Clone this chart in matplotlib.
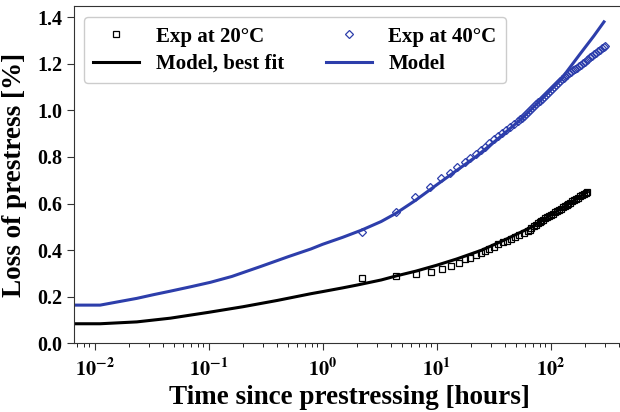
import matplotlib
matplotlib.use("Agg")
import matplotlib.pyplot as plt

plt.rcParams['font.family'] = ['Liberation Serif', 'DejaVu Serif']
plt.rcParams['font.weight'] = 'bold'
plt.rcParams['mathtext.fontset'] = 'stix'

# model curves
t_model20 = [0.001, 0.0112, 0.0235, 0.0463, 0.1, 0.2, 0.4, 0.79, 1.0, 1.5, 2.0, 3.27, 4.4, 6.6,
             10, 15, 24.9, 40, 68.7, 100, 150, 210]
y_model20 = [0.084, 0.084, 0.092, 0.108, 0.133, 0.157, 0.184, 0.213, 0.222, 0.238, 0.25, 0.272,
             0.289, 0.31, 0.335, 0.362, 0.40, 0.445, 0.50, 0.55, 0.604, 0.65]

t_model40 = [0.001, 0.0112, 0.016, 0.0235, 0.033, 0.0463, 0.07, 0.104, 0.16, 0.287, 0.5, 0.79, 1.0,
             1.5, 2.2, 3.27, 4.4, 6.5, 10, 15, 22, 33, 56, 80, 122, 180, 240, 294]
y_model40 = [0.164, 0.164, 0.178, 0.193, 0.209, 0.224, 0.243, 0.262, 0.287, 0.33, 0.372, 0.405, 0.425,
             0.455, 0.486, 0.523, 0.558, 0.613, 0.68, 0.742, 0.80, 0.87, 0.965, 1.039, 1.13, 1.24,
             1.32, 1.38]

# experiments at 20 C
t_exp20 = [2.2, 4.4, 6.66, 8.9, 11.1, 13.4, 15.7, 17.7, 19.6, 22.1, 24.4, 26.7, 28.9, 31.6, 34.5,
           37.9, 41.4, 45.2, 49, 53.1, 58, 63, 65.5, 68, 71, 74, 77, 80, 83, 86.5, 90, 93.5, 97,
           101, 105, 109, 113.5, 118, 123, 128, 133, 138, 143.5, 149, 155, 161, 167.5, 174, 181,
           188, 195.5, 203, 210]
y_exp20 = [0.279, 0.289, 0.296, 0.307, 0.319, 0.333, 0.346, 0.360, 0.367, 0.378, 0.386, 0.396, 0.405,
           0.415, 0.425, 0.433, 0.440, 0.448, 0.455, 0.463, 0.472, 0.482, 0.488, 0.495, 0.502, 0.508,
           0.515, 0.521, 0.526, 0.531, 0.536, 0.541, 0.546, 0.552, 0.557, 0.562, 0.567, 0.573, 0.578,
           0.584, 0.589, 0.594, 0.599, 0.604, 0.610, 0.615, 0.620, 0.625, 0.631, 0.636, 0.641, 0.646,
           0.650]

# experiments at 40 C
t_exp40 = [2.2, 4.4, 6.44, 8.7, 10.9, 13, 15.2, 17.7, 19.7, 22.2, 24.4, 26.7, 28.9, 31.6, 34.5, 37.4,
           40.6, 44.4, 47.7, 52, 54, 56, 58.5, 61, 63.5, 66, 68.5, 71.5, 74.5, 77.5, 80.5, 84, 87.5,
           91, 94.5, 98.5, 102.5, 106.5, 111, 115.5, 120, 125, 130, 135, 140.5, 146, 152, 158, 164,
           170.5, 177, 184, 191.5, 199, 207, 215, 223.5, 232.5, 242, 251.5, 261.5, 272, 283, 292, 301]
y_exp40 = [0.479, 0.565, 0.629, 0.672, 0.708, 0.732, 0.758, 0.777, 0.794, 0.811, 0.830, 0.844, 0.858,
           0.875, 0.891, 0.904, 0.915, 0.930, 0.940, 0.954, 0.962, 0.969, 0.977, 0.986, 0.994, 1.002,
           1.009, 1.018, 1.026, 1.034, 1.042, 1.050, 1.059, 1.067, 1.075, 1.083, 1.091, 1.099, 1.108,
           1.116, 1.124, 1.133, 1.140, 1.146, 1.153, 1.159, 1.165, 1.172, 1.178, 1.184, 1.190, 1.196,
           1.202, 1.209, 1.215, 1.222, 1.228, 1.234, 1.241, 1.247, 1.253, 1.260, 1.266, 1.271, 1.276]

xticks = [0.01, 0.1, 1, 10, 100]
xticklabels = [r'$\mathbf{10^{-2}}$', r'$\mathbf{10^{-1}}$', r'$\mathbf{10^{0}}$',
               r'$\mathbf{10^{1}}$', r'$\mathbf{10^{2}}$']
yticks = [0.0, 0.2, 0.4, 0.6, 0.8, 1.0, 1.2, 1.4]

blue = '#2d3eab'

fig = plt.figure(figsize=(6.2, 4.12), dpi=100)
ax = fig.add_axes([0.1194, 0.1667, 0.89, 0.8187])

ax.plot(t_exp20, y_exp20, 's', mfc='none', mec='black', ms=4, mew=0.9, label='Exp at 20°C')
ax.plot(t_model20, y_model20, '-', color='black', lw=2.2, label='Model, best fit')
ax.plot(t_exp40, y_exp40, 'D', mfc='none', mec=blue, ms=4, mew=0.9, label='Exp at 40°C')
ax.plot(t_model40, y_model40, '-', color=blue, lw=2.2, label='Model')

ax.set_xscale('log')
ax.set_xlim(10 ** -2.18, 10 ** 2.66)
ax.set_ylim(0, 1.448)
ax.set_xticks(xticks)
ax.set_xticklabels(xticklabels)
ax.set_yticks(yticks)
ax.set_yticklabels([f'{v:.1f}' for v in yticks])
ax.tick_params(labelsize=14.5, colors='#333333', labelcolor='black')
ax.tick_params(axis='x', pad=6)
ax.tick_params(which='major', length=5)
ax.tick_params(which='minor', length=3)

ax.set_xlabel('Time since prestressing [hours]', fontsize=19.5, fontweight='bold', labelpad=3)
ax.set_ylabel('Loss of prestress [%]', fontsize=19.5, fontweight='bold', labelpad=7)

for s in ax.spines.values():
    s.set_color('#333333')

h, l = ax.get_legend_handles_labels()
ax.legend(h, l, ncol=2, loc='upper left', prop={'weight': 'bold', 'size': 15},
          handlelength=2.2, columnspacing=2.0, borderpad=0.45, labelspacing=0.35,
          borderaxespad=0, bbox_to_anchor=(0.018, 0.967), edgecolor='#cccccc', framealpha=1)

fig.savefig('out.png', dpi=100)
